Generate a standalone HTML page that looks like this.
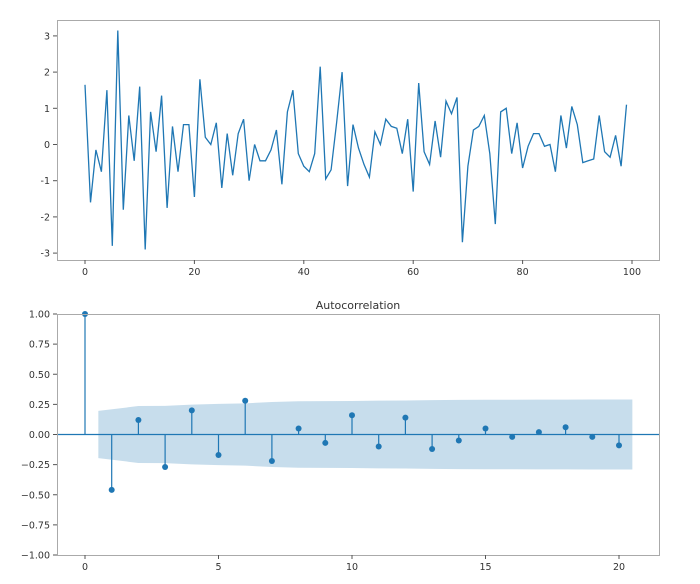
<!DOCTYPE html>
<html><head><meta charset="utf-8"><style>
body{margin:0;background:#fff;}
svg text{font-family:"DejaVu Sans","Liberation Sans",sans-serif;font-size:9.5px;fill:#333;}
</style></head><body>
<svg id="c" width="700" height="579" xmlns="http://www.w3.org/2000/svg"></svg>
<script>
const seriesValues=[1.65,-1.6,-0.15,-0.75,1.5,-2.8,3.15,-1.8,0.8,-0.45,1.6,-2.9,0.9,-0.2,1.35,-1.75,0.5,-0.75,0.55,0.55,-1.45,1.8,0.2,0.0,0.6,-1.2,0.3,-0.85,0.3,0.7,-1.0,0.0,-0.45,-0.45,-0.15,0.4,-1.1,0.9,1.5,-0.25,-0.6,-0.75,-0.25,2.15,-0.95,-0.7,0.6,2.0,-1.15,0.55,-0.1,-0.55,-0.9,0.35,0.0,0.7,0.5,0.45,-0.25,0.7,-1.3,1.7,-0.2,-0.55,0.65,-0.35,1.2,0.85,1.3,-2.7,-0.6,0.4,0.5,0.8,-0.25,-2.2,0.9,1.0,-0.25,0.6,-0.65,-0.05,0.3,0.3,-0.05,0.0,-0.75,0.8,-0.1,1.05,0.55,-0.5,-0.45,-0.4,0.8,-0.2,-0.35,0.25,-0.6,1.1];
const topXTicks=[0,20,40,60,80,100];
const topYTicks=[-3,-2,-1,0,1,2,3];
const acfValues=[1,-0.46,0.12,-0.27,0.2,-0.17,0.28,-0.22,0.05,-0.07,0.16,-0.1,0.14,-0.12,-0.05,0.05,-0.02,0.02,0.06,-0.02,-0.09];
const bandX=[0.5,2,3,4,5,6,7,8,9,10,11,12,13,14,15,16,17,18,19,20.5];
const bandValues=[0.196,0.236,0.238,0.248,0.254,0.258,0.27,0.276,0.277,0.278,0.281,0.282,0.285,0.287,0.288,0.288,0.289,0.289,0.29,0.29];
const acfXTicks=[0,5,10,15,20];
const acfYTicks=[-1,-0.75,-0.5,-0.25,0,0.25,0.5,0.75,1];

const svg=document.getElementById('c');
const NS='http://www.w3.org/2000/svg';
function mk(tag,attrs,parent){const e=document.createElementNS(NS,tag);for(const k in attrs)e.setAttribute(k,attrs[k]);(parent||svg).appendChild(e);return e;}
const C='#1f77b4';
// top axes
const tx=v=>85+v*5.47, ty=v=>144.5-v*36.2;
const g1=mk('g',{});


let d=seriesValues.map((v,i)=>(i?'L':'M')+tx(i).toFixed(1)+' '+ty(v).toFixed(1)).join(' ');
const line=mk('path',{d:d,fill:'none',stroke:C,'stroke-width':1.3},g1);


const f1=mk('rect',{x:57.5,y:20.5,width:602,height:240,fill:'none',stroke:'#aaa'},g1);


topXTicks.forEach(t=>{mk('line',{x1:tx(t),x2:tx(t),y1:260,y2:264,stroke:'#555'},g1);const e=mk('text',{x:tx(t),y:275,'text-anchor':'middle'},g1);e.textContent=t;

});
topYTicks.forEach(t=>{mk('line',{x1:53,x2:57,y1:ty(t),y2:ty(t),stroke:'#555'},g1);const e=mk('text',{x:50,y:ty(t)+3.5,'text-anchor':'end'},g1);e.textContent=t;

});
// acf axes
const ax=v=>85+v*26.7, ay=v=>434.5-v*120.5;
const g2=mk('g',{});


let bp=bandX.map((x,i)=>(i?'L':'M')+ax(x)+' '+ay(bandValues[i])).join(' ');
for(let i=bandX.length-1;i>=0;i--)bp+=' L'+ax(bandX[i])+' '+ay(-bandValues[i]);
const band=mk('path',{d:bp+' Z',fill:C,'fill-opacity':0.25,stroke:'none'},g2);


mk('line',{x1:57,x2:659,y1:ay(0),y2:ay(0),stroke:C,'stroke-width':1.2},g2);
acfValues.forEach((v,i)=>{mk('line',{x1:ax(i),x2:ax(i),y1:ay(0),y2:ay(v),stroke:C,'stroke-width':1.2},g2);
const p=mk('circle',{cx:ax(i),cy:ay(v),r:3,fill:C},g2);

});
const f2=mk('rect',{x:57.5,y:314.5,width:602,height:241,fill:'none',stroke:'#aaa'},g2);


acfXTicks.forEach(t=>{mk('line',{x1:ax(t),x2:ax(t),y1:555,y2:559,stroke:'#555'},g2);const e=mk('text',{x:ax(t),y:570,'text-anchor':'middle'},g2);e.textContent=t;

});
acfYTicks.forEach(t=>{mk('line',{x1:53,x2:57,y1:ay(t),y2:ay(t),stroke:'#555'},g2);const e=mk('text',{x:50,y:ay(t)+3.5,'text-anchor':'end'},g2);e.textContent=(t<0?'\u2212':'')+Math.abs(t).toFixed(2);

});
const title=mk('text',{x:358,y:309,'text-anchor':'middle',style:'font-size:11px'},g2);
title.textContent='Autocorrelation';


</script>
</body></html>
